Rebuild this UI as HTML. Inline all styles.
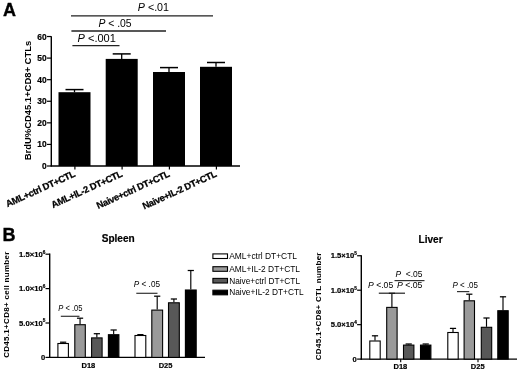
<!DOCTYPE html>
<html><head><meta charset="utf-8"><title>Figure</title>
<style>
html,body{margin:0;padding:0;background:#fff;}
body{width:520px;height:371px;overflow:hidden;}
svg{display:block;font-family:"Liberation Sans",Arial,sans-serif;fill:#000;}
</style></head><body>
<svg width="520" height="371" viewBox="0 0 520 371">
<defs><filter id="bl" x="-5%" y="-5%" width="110%" height="110%" filterUnits="objectBoundingBox"><feGaussianBlur stdDeviation="0.55"/></filter></defs>
<rect x="-10" y="-10" width="540" height="391" fill="#fff" stroke="none"/>
<g filter="url(#bl)">
<rect x="-10" y="-10" width="540" height="391" fill="#fff" stroke="none"/>
<text x="3.0" y="16" font-size="18" font-weight="bold" stroke="#000" stroke-width="0.35">A</text>
<line x1="51.3" y1="36.2" x2="51.3" y2="166.6" stroke="#000" stroke-width="1.4"/>
<line x1="50.699999999999996" y1="166.0" x2="240" y2="166.0" stroke="#000" stroke-width="1.4"/>
<line x1="47.0" y1="166.0" x2="51.3" y2="166.0" stroke="#000" stroke-width="1.2"/>
<text x="46.6" y="169.0" font-size="8.4" font-weight="bold" text-anchor="end" stroke="#000" stroke-width="0.2">0</text>
<line x1="47.0" y1="144.42000000000002" x2="51.3" y2="144.42000000000002" stroke="#000" stroke-width="1.2"/>
<text x="46.6" y="147.42" font-size="8.4" font-weight="bold" text-anchor="end" stroke="#000" stroke-width="0.2">10</text>
<line x1="47.0" y1="122.84" x2="51.3" y2="122.84" stroke="#000" stroke-width="1.2"/>
<text x="46.6" y="125.84" font-size="8.4" font-weight="bold" text-anchor="end" stroke="#000" stroke-width="0.2">20</text>
<line x1="47.0" y1="101.26" x2="51.3" y2="101.26" stroke="#000" stroke-width="1.2"/>
<text x="46.6" y="104.26" font-size="8.4" font-weight="bold" text-anchor="end" stroke="#000" stroke-width="0.2">30</text>
<line x1="47.0" y1="79.68" x2="51.3" y2="79.68" stroke="#000" stroke-width="1.2"/>
<text x="46.6" y="82.68" font-size="8.4" font-weight="bold" text-anchor="end" stroke="#000" stroke-width="0.2">40</text>
<line x1="47.0" y1="58.10000000000001" x2="51.3" y2="58.10000000000001" stroke="#000" stroke-width="1.2"/>
<text x="46.6" y="61.1" font-size="8.4" font-weight="bold" text-anchor="end" stroke="#000" stroke-width="0.2">50</text>
<line x1="47.0" y1="36.52000000000001" x2="51.3" y2="36.52000000000001" stroke="#000" stroke-width="1.2"/>
<text x="46.6" y="39.52" font-size="8.4" font-weight="bold" text-anchor="end" stroke="#000" stroke-width="0.2">60</text>
<text x="31.3" y="160.3" font-size="9.6" font-weight="bold" textLength="119.5" lengthAdjust="spacingAndGlyphs" transform="rotate(-90 31.3 160.3)">BrdU%CD45.1+CD8+ CTLs</text>
<line x1="74.5" y1="89.6" x2="74.5" y2="92.2" stroke="#000" stroke-width="1.3"/>
<line x1="65.5" y1="89.6" x2="83.5" y2="89.6" stroke="#000" stroke-width="1.5"/>
<rect x="58.5" y="92.2" width="32" height="73.8" fill="#000"/>
<line x1="74.9" y1="166.0" x2="74.9" y2="169.4" stroke="#000" stroke-width="1.2"/>
<line x1="121.7" y1="53.9" x2="121.7" y2="58.9" stroke="#000" stroke-width="1.3"/>
<line x1="112.7" y1="53.9" x2="130.7" y2="53.9" stroke="#000" stroke-width="1.5"/>
<rect x="105.7" y="58.9" width="32" height="107.1" fill="#000"/>
<line x1="122.10000000000001" y1="166.0" x2="122.10000000000001" y2="169.4" stroke="#000" stroke-width="1.2"/>
<line x1="169" y1="67.6" x2="169" y2="72" stroke="#000" stroke-width="1.3"/>
<line x1="160" y1="67.6" x2="178" y2="67.6" stroke="#000" stroke-width="1.5"/>
<rect x="153" y="72" width="32" height="94.0" fill="#000"/>
<line x1="169.4" y1="166.0" x2="169.4" y2="169.4" stroke="#000" stroke-width="1.2"/>
<line x1="216" y1="62.5" x2="216" y2="66.8" stroke="#000" stroke-width="1.3"/>
<line x1="207" y1="62.5" x2="225" y2="62.5" stroke="#000" stroke-width="1.5"/>
<rect x="200" y="66.8" width="32" height="99.2" fill="#000"/>
<line x1="216.4" y1="166.0" x2="216.4" y2="169.4" stroke="#000" stroke-width="1.2"/>
<text x="76.0" y="176.2" font-size="9.4" font-weight="bold" text-anchor="end" textLength="75.2" lengthAdjust="spacing" transform="rotate(-24.5 76.0 176.2)" stroke="#000" stroke-width="0.25">AML+ctrl DT+CTL</text>
<text x="123.2" y="176.2" font-size="9.4" font-weight="bold" text-anchor="end" textLength="77" lengthAdjust="spacing" transform="rotate(-24.5 123.2 176.2)" stroke="#000" stroke-width="0.25">AML+IL-2 DT+CTL</text>
<text x="170.5" y="176.2" font-size="9.4" font-weight="bold" text-anchor="end" textLength="79.3" lengthAdjust="spacing" transform="rotate(-24.5 170.5 176.2)" stroke="#000" stroke-width="0.25">Naive+ctrl DT+CTL</text>
<text x="217.5" y="176.2" font-size="9.4" font-weight="bold" text-anchor="end" textLength="80.5" lengthAdjust="spacing" transform="rotate(-24.5 217.5 176.2)" stroke="#000" stroke-width="0.25">Naive+IL-2 DT+CTL</text>
<line x1="71" y1="15.9" x2="213" y2="15.9" stroke="#222" stroke-width="1.4"/>
<line x1="71.4" y1="31" x2="166" y2="31" stroke="#222" stroke-width="1.4"/>
<line x1="72.4" y1="45.6" x2="119.5" y2="45.6" stroke="#222" stroke-width="1.4"/>
<text x="137.8" y="10.6" font-size="10.2" textLength="31.2" lengthAdjust="spacingAndGlyphs"><tspan font-style="italic">P</tspan>&#160;&lt;.01</text>
<text x="98.4" y="26.8" font-size="10.2" textLength="33.2" lengthAdjust="spacingAndGlyphs"><tspan font-style="italic">P</tspan>&#160;&lt;&#160;.05</text>
<text x="77.6" y="42.2" font-size="10.2" textLength="38.3" lengthAdjust="spacingAndGlyphs"><tspan font-style="italic">P</tspan>&#160;&lt;.001</text>
<text x="2.4" y="240.6" font-size="18" font-weight="bold" stroke="#000" stroke-width="0.35">B</text>
<text x="101.7" y="242.1" font-size="10.1" font-weight="bold" textLength="33" lengthAdjust="spacingAndGlyphs" stroke="#000" stroke-width="0.2">Spleen</text>
<text x="418.6" y="243" font-size="10.1" font-weight="bold" textLength="24" lengthAdjust="spacingAndGlyphs" stroke="#000" stroke-width="0.2">Liver</text>
<line x1="49.7" y1="253.6" x2="49.7" y2="358.09999999999997" stroke="#000" stroke-width="1.4"/>
<line x1="49.1" y1="357.4" x2="205" y2="357.4" stroke="#000" stroke-width="1.35"/>
<line x1="45.5" y1="357.4" x2="49.7" y2="357.4" stroke="#000" stroke-width="1.2"/>
<text x="45.2" y="360.1" font-size="7.6" font-weight="bold" text-anchor="end" stroke="#000" stroke-width="0.2">0</text>
<line x1="45.5" y1="323.0" x2="49.7" y2="323.0" stroke="#000" stroke-width="1.2"/>
<text x="45.300000000000004" y="325.6" font-size="7.5" font-weight="bold" stroke="#000" stroke-width="0.2" text-anchor="end" textLength="26.2" lengthAdjust="spacingAndGlyphs">5.0×10<tspan font-size="4.6" dy="-3.2">5</tspan></text>
<line x1="45.5" y1="288.6" x2="49.7" y2="288.6" stroke="#000" stroke-width="1.2"/>
<text x="45.300000000000004" y="291.2" font-size="7.5" font-weight="bold" stroke="#000" stroke-width="0.2" text-anchor="end" textLength="26.2" lengthAdjust="spacingAndGlyphs">1.0×10<tspan font-size="4.6" dy="-3.2">6</tspan></text>
<line x1="45.5" y1="254.2" x2="49.7" y2="254.2" stroke="#000" stroke-width="1.2"/>
<text x="45.300000000000004" y="256.8" font-size="7.5" font-weight="bold" stroke="#000" stroke-width="0.2" text-anchor="end" textLength="26.2" lengthAdjust="spacingAndGlyphs">1.5×10<tspan font-size="4.6" dy="-3.2">6</tspan></text>
<text x="9.4" y="357.8" font-size="8.0" font-weight="bold" textLength="106.2" lengthAdjust="spacing" transform="rotate(-90 9.4 357.8)">CD45.1+CD8+ cell number</text>
<line x1="63.15" y1="342.2" x2="63.15" y2="343" stroke="#000" stroke-width="1.15"/>
<line x1="60.05" y1="342.2" x2="66.25" y2="342.2" stroke="#000" stroke-width="1.25"/>
<rect x="57.9" y="343.5" width="10.5" height="13.9" fill="#fff" stroke="#000" stroke-width="1.1"/>
<line x1="80.05" y1="318.2" x2="80.05" y2="324.2" stroke="#000" stroke-width="1.15"/>
<line x1="76.95" y1="318.2" x2="83.14999999999999" y2="318.2" stroke="#000" stroke-width="1.25"/>
<rect x="74.8" y="324.7" width="10.5" height="32.7" fill="#9a9a9a" stroke="#000" stroke-width="1.1"/>
<line x1="96.85" y1="333.7" x2="96.85" y2="337.4" stroke="#000" stroke-width="1.15"/>
<line x1="93.75" y1="333.7" x2="99.94999999999999" y2="333.7" stroke="#000" stroke-width="1.25"/>
<rect x="91.6" y="337.9" width="10.5" height="19.5" fill="#595959" stroke="#000" stroke-width="1.1"/>
<line x1="113.65" y1="330" x2="113.65" y2="334.2" stroke="#000" stroke-width="1.15"/>
<line x1="110.55000000000001" y1="330" x2="116.75" y2="330" stroke="#000" stroke-width="1.25"/>
<rect x="108.4" y="334.7" width="10.5" height="22.7" fill="#000" stroke="#000" stroke-width="1.1"/>
<line x1="140.4" y1="334.6" x2="140.4" y2="335" stroke="#000" stroke-width="1.15"/>
<line x1="137.3" y1="334.6" x2="143.5" y2="334.6" stroke="#000" stroke-width="1.25"/>
<rect x="135.0" y="335.5" width="10.8" height="21.9" fill="#fff" stroke="#000" stroke-width="1.1"/>
<line x1="157.20000000000002" y1="296.2" x2="157.20000000000002" y2="309.6" stroke="#000" stroke-width="1.15"/>
<line x1="154.10000000000002" y1="296.2" x2="160.3" y2="296.2" stroke="#000" stroke-width="1.25"/>
<rect x="151.8" y="310.1" width="10.8" height="47.3" fill="#9a9a9a" stroke="#000" stroke-width="1.1"/>
<line x1="173.9" y1="299" x2="173.9" y2="302.3" stroke="#000" stroke-width="1.15"/>
<line x1="170.8" y1="299" x2="177.0" y2="299" stroke="#000" stroke-width="1.25"/>
<rect x="168.5" y="302.8" width="10.8" height="54.6" fill="#595959" stroke="#000" stroke-width="1.1"/>
<line x1="190.8" y1="270.5" x2="190.8" y2="289.5" stroke="#000" stroke-width="1.15"/>
<line x1="187.70000000000002" y1="270.5" x2="193.9" y2="270.5" stroke="#000" stroke-width="1.25"/>
<rect x="185.4" y="290.0" width="10.8" height="67.4" fill="#000" stroke="#000" stroke-width="1.1"/>
<text x="88.4" y="367.6" font-size="7.5" font-weight="bold" text-anchor="middle" stroke="#000" stroke-width="0.2">D18</text>
<text x="165.6" y="367.6" font-size="7.5" font-weight="bold" text-anchor="middle" stroke="#000" stroke-width="0.2">D25</text>
<text x="58.3" y="310.5" font-size="8.6" textLength="24.2" lengthAdjust="spacingAndGlyphs"><tspan font-style="italic">P</tspan>&#160;&lt;&#160;.05</text>
<line x1="60.8" y1="316.3" x2="79.5" y2="316.3" stroke="#333" stroke-width="1.2"/>
<text x="133.8" y="286.8" font-size="8.6" textLength="26.2" lengthAdjust="spacingAndGlyphs"><tspan font-style="italic">P</tspan>&#160;&lt;&#160;.05</text>
<line x1="136.3" y1="293.3" x2="157.5" y2="293.3" stroke="#333" stroke-width="1.2"/>
<rect x="212.9" y="253.9" width="14.6" height="4.6" fill="#fff" stroke="#000" stroke-width="1.1"/>
<text x="229.2" y="259.1" font-size="8.5" textLength="67.8" lengthAdjust="spacingAndGlyphs">AML+ctrl DT+CTL</text>
<rect x="212.9" y="266.7" width="14.6" height="4.6" fill="#9a9a9a" stroke="#000" stroke-width="1.1"/>
<text x="229.2" y="271.9" font-size="8.5" textLength="70.8" lengthAdjust="spacingAndGlyphs">AML+IL-2 DT+CTL</text>
<rect x="212.9" y="278.4" width="14.6" height="4.6" fill="#595959" stroke="#000" stroke-width="1.1"/>
<text x="229.2" y="283.6" font-size="8.5" textLength="70.8" lengthAdjust="spacingAndGlyphs">Naive+ctrl DT+CTL</text>
<rect x="212.9" y="290.2" width="14.6" height="4.6" fill="#000" stroke="#000" stroke-width="1.1"/>
<text x="229.2" y="295.4" font-size="8.5" textLength="74.5" lengthAdjust="spacingAndGlyphs">Naive+IL-2 DT+CTL</text>
<line x1="361.3" y1="255.15" x2="361.3" y2="359.8" stroke="#000" stroke-width="1.4"/>
<line x1="360.7" y1="359.1" x2="517" y2="359.1" stroke="#000" stroke-width="1.35"/>
<line x1="357.1" y1="359.1" x2="361.3" y2="359.1" stroke="#000" stroke-width="1.2"/>
<text x="356.8" y="361.8" font-size="7.6" font-weight="bold" text-anchor="end" stroke="#000" stroke-width="0.2">0</text>
<line x1="357.1" y1="324.65" x2="361.3" y2="324.65" stroke="#000" stroke-width="1.2"/>
<text x="356.90000000000003" y="327.25" font-size="7.5" font-weight="bold" stroke="#000" stroke-width="0.2" text-anchor="end" textLength="26.2" lengthAdjust="spacingAndGlyphs">5.0×10<tspan font-size="4.6" dy="-3.2">4</tspan></text>
<line x1="357.1" y1="290.2" x2="361.3" y2="290.2" stroke="#000" stroke-width="1.2"/>
<text x="356.90000000000003" y="292.8" font-size="7.5" font-weight="bold" stroke="#000" stroke-width="0.2" text-anchor="end" textLength="26.2" lengthAdjust="spacingAndGlyphs">1.0×10<tspan font-size="4.6" dy="-3.2">5</tspan></text>
<line x1="357.1" y1="255.75" x2="361.3" y2="255.75" stroke="#000" stroke-width="1.2"/>
<text x="356.90000000000003" y="258.35" font-size="7.5" font-weight="bold" stroke="#000" stroke-width="0.2" text-anchor="end" textLength="26.2" lengthAdjust="spacingAndGlyphs">1.5×10<tspan font-size="4.6" dy="-3.2">5</tspan></text>
<text x="320.7" y="360.2" font-size="8.0" font-weight="bold" textLength="107.7" lengthAdjust="spacing" transform="rotate(-90 320.7 360.2)">CD45.1+CD8+ CTL number</text>
<line x1="375.0" y1="335.8" x2="375.0" y2="340.5" stroke="#000" stroke-width="1.15"/>
<line x1="371.9" y1="335.8" x2="378.1" y2="335.8" stroke="#000" stroke-width="1.25"/>
<rect x="369.8" y="341.0" width="10.4" height="18.1" fill="#fff" stroke="#000" stroke-width="1.1"/>
<line x1="391.9" y1="293.3" x2="391.9" y2="306.9" stroke="#000" stroke-width="1.15"/>
<line x1="388.79999999999995" y1="293.3" x2="395.0" y2="293.3" stroke="#000" stroke-width="1.25"/>
<rect x="386.7" y="307.4" width="10.4" height="51.7" fill="#9a9a9a" stroke="#000" stroke-width="1.1"/>
<line x1="408.7" y1="344.0" x2="408.7" y2="344.6" stroke="#000" stroke-width="1.15"/>
<line x1="405.59999999999997" y1="344.0" x2="411.8" y2="344.0" stroke="#000" stroke-width="1.25"/>
<rect x="403.5" y="345.1" width="10.4" height="14.0" fill="#595959" stroke="#000" stroke-width="1.1"/>
<line x1="425.7" y1="344.0" x2="425.7" y2="344.6" stroke="#000" stroke-width="1.15"/>
<line x1="422.59999999999997" y1="344.0" x2="428.8" y2="344.0" stroke="#000" stroke-width="1.25"/>
<rect x="420.5" y="345.1" width="10.4" height="14.0" fill="#000" stroke="#000" stroke-width="1.1"/>
<line x1="453.0" y1="328.4" x2="453.0" y2="332" stroke="#000" stroke-width="1.15"/>
<line x1="449.9" y1="328.4" x2="456.1" y2="328.4" stroke="#000" stroke-width="1.25"/>
<rect x="447.8" y="332.5" width="10.4" height="26.6" fill="#fff" stroke="#000" stroke-width="1.1"/>
<line x1="469.3" y1="294.2" x2="469.3" y2="300.3" stroke="#000" stroke-width="1.15"/>
<line x1="466.2" y1="294.2" x2="472.40000000000003" y2="294.2" stroke="#000" stroke-width="1.25"/>
<rect x="464.1" y="300.8" width="10.4" height="58.3" fill="#9a9a9a" stroke="#000" stroke-width="1.1"/>
<line x1="486.5" y1="318" x2="486.5" y2="326.8" stroke="#000" stroke-width="1.15"/>
<line x1="483.4" y1="318" x2="489.6" y2="318" stroke="#000" stroke-width="1.25"/>
<rect x="481.3" y="327.3" width="10.4" height="31.8" fill="#595959" stroke="#000" stroke-width="1.1"/>
<line x1="503.0" y1="296.8" x2="503.0" y2="310.2" stroke="#000" stroke-width="1.15"/>
<line x1="499.9" y1="296.8" x2="506.1" y2="296.8" stroke="#000" stroke-width="1.25"/>
<rect x="497.8" y="310.7" width="10.4" height="48.4" fill="#000" stroke="#000" stroke-width="1.1"/>
<text x="400.4" y="368.7" font-size="7.5" font-weight="bold" text-anchor="middle" stroke="#000" stroke-width="0.2">D18</text>
<line x1="400.7" y1="359.1" x2="400.7" y2="362.3" stroke="#000" stroke-width="1.1"/>
<text x="477.7" y="369" font-size="7.5" font-weight="bold" text-anchor="middle" stroke="#000" stroke-width="0.2">D25</text>
<line x1="478.0" y1="359.1" x2="478.0" y2="362.3" stroke="#000" stroke-width="1.1"/>
<text x="368" y="287.6" font-size="8.9" textLength="25.2" lengthAdjust="spacingAndGlyphs"><tspan font-style="italic">P</tspan>&#160;&lt;.05</text>
<line x1="378.8" y1="293.2" x2="405" y2="293.2" stroke="#222" stroke-width="1.2"/>
<text x="395.4" y="276.9" font-size="8.9" textLength="27" lengthAdjust="spacingAndGlyphs"><tspan font-style="italic">P</tspan>&#160;&#160;&lt;.05</text>
<line x1="394.5" y1="280.6" x2="424.5" y2="280.6" stroke="#333" stroke-width="1.2"/>
<text x="396.9" y="287.7" font-size="8.9" textLength="25.5" lengthAdjust="spacingAndGlyphs"><tspan font-style="italic">P</tspan>&#160;&lt;.05</text>
<text x="452.5" y="287.5" font-size="8.6" textLength="25.5" lengthAdjust="spacingAndGlyphs"><tspan font-style="italic">P</tspan>&#160;&lt;&#160;.05</text>
<line x1="457" y1="291.6" x2="469.3" y2="291.6" stroke="#333" stroke-width="1.2"/>
</g>
</svg>
</body></html>
